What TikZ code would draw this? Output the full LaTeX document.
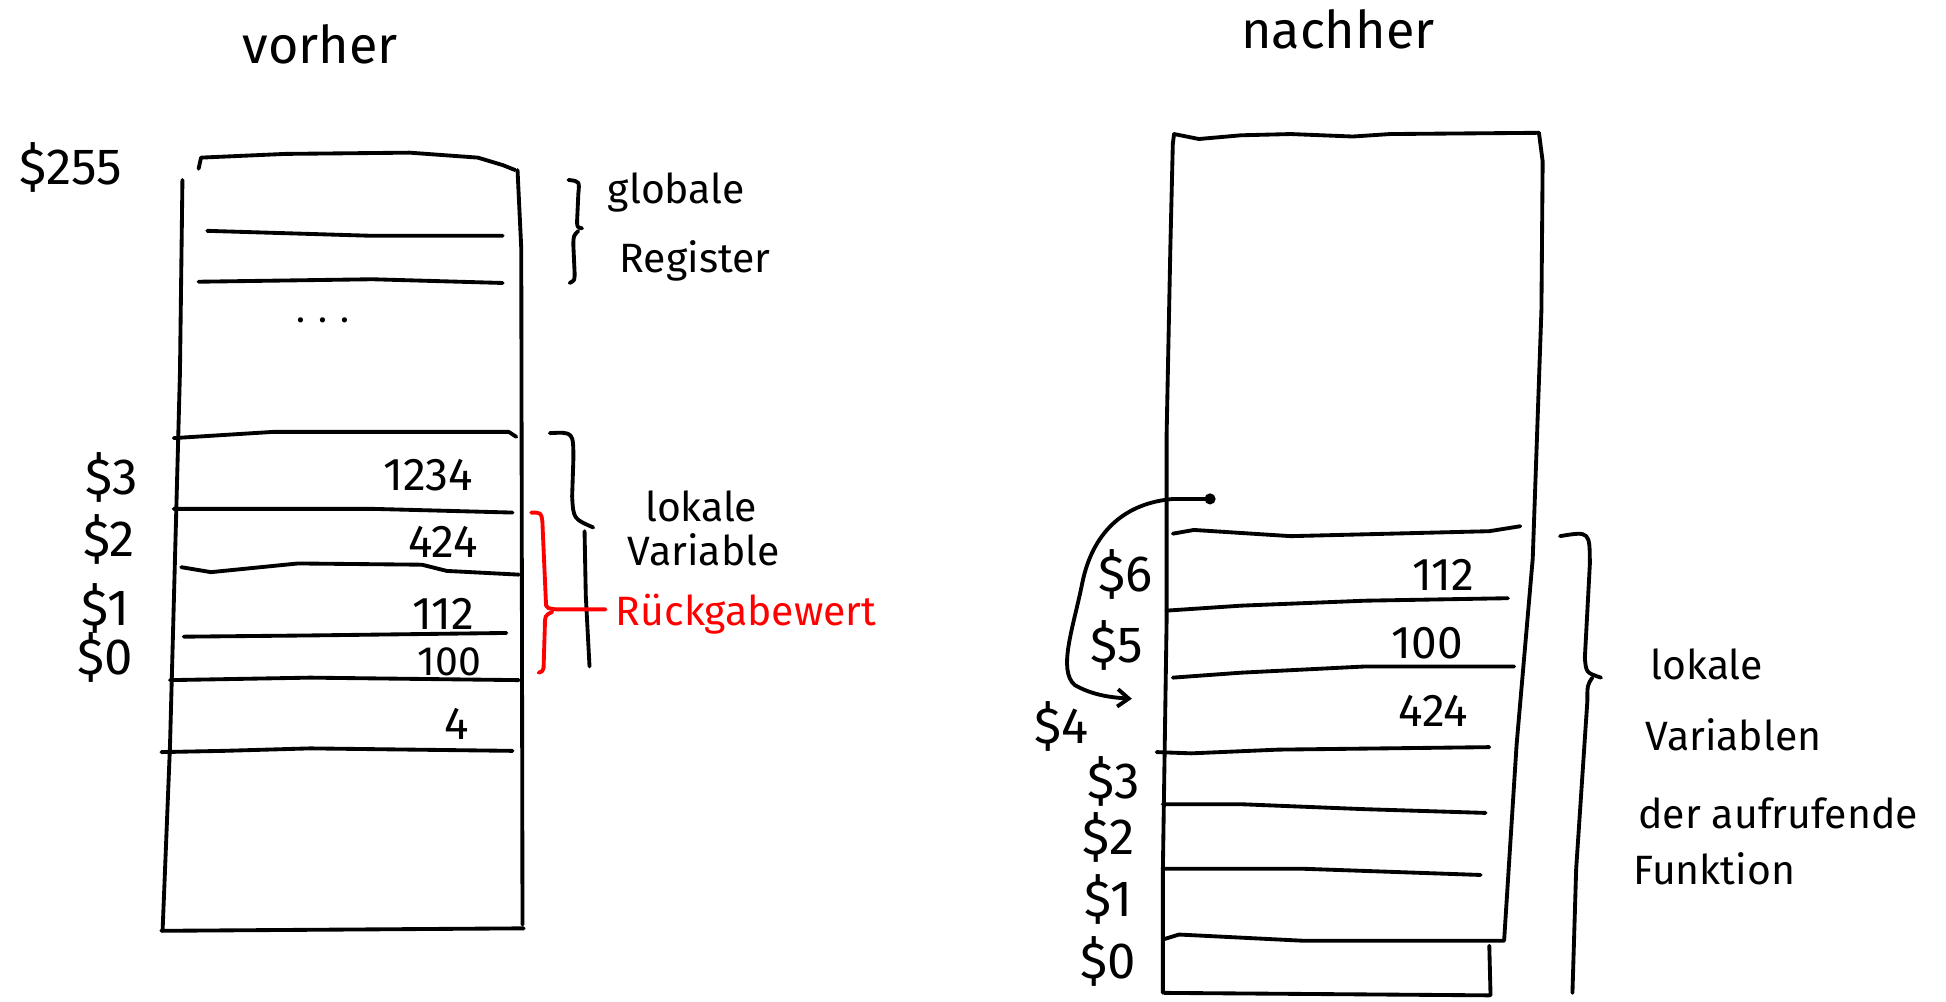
\documentclass[tikz,border=0pt]{standalone}
\usepackage{fontspec}
\setmainfont{Fira Sans}
\usetikzlibrary{arrows.meta}
\begin{document}
\begin{tikzpicture}[x=1pt,y=-1pt,
  pen/.style={line width=3.1pt, line cap=round, line join=round},
  redpen/.style={pen, draw=red},
  hand/.style={font=\fontsize{33}{35}\selectfont, inner sep=0pt},
  num/.style={font=\fontsize{37}{39}\selectfont, inner sep=0pt},
  reg/.style={font=\fontsize{41}{43}\selectfont, inner sep=0pt},
  big/.style={font=\fontsize{42}{44}\selectfont, inner sep=0pt},
  small/.style={font=\fontsize{30}{32}\selectfont, inner sep=0pt}]
\useasboundingbox (0,0) rectangle (1568,807);

% ---------- left stack: vorher ----------
\node[big] (tvor) at (258,36) {vorher};
\draw[pen] (160,136) -- (162,127) -- (230,124) -- (330,123) -- (385,127) -- (405,133) -- (415,137);
\draw[pen] (147,145) -- (145,300) -- (137,600) -- (131,750);
\draw[pen] (417,137) -- (420,200) -- (421,745);
\draw[pen] (130,750) -- (422,748);
% cells
\draw[pen] (167,186) -- (300,190) -- (405,190);
\draw[pen] (160,227) -- (300,225) -- (405,228);
\draw[pen] (140,353) -- (220,348) -- (410,348) -- (416,352);
\draw[pen] (140,410) -- (300,410) -- (413,413);
\draw[pen] (146,457) -- (170,461) -- (240,454) -- (340,455) -- (360,460) -- (418,463);
\draw[pen] (148,513) -- (250,512) -- (408,510);
\draw[pen] (137,548) -- (250,546) -- (418,548);
\draw[pen] (130,606) -- (180,605) -- (250,603) -- (413,605);
\node[small] (dots) at (260,258) {. . .};
% values
\node[num] (v1234) at (345,383) {1234};
\node[num] (v424) at (357,437) {424};
\node[num] (v112) at (357,495) {112};
\node[hand] (v100) at (362,533) {100};
\node[num] (v4) at (368,583) {4};
% register names
\node[reg] (r255) at (57,135) {\$255};
\node[reg] (r3) at (90,385) {\$3};
\node[reg] (r2) at (88,435) {\$2};
\node[reg] (r1) at (85,490) {\$1};
\node[reg] (r0) at (85,530) {\$0};
% braces and notes
\draw[pen] (458,145) .. controls (467,146) .. (466,156) -- (465,178) .. controls (465,183) .. (469,184);
\draw[pen] (466,186) .. controls (462,190) .. (462,198) -- (463,220) .. controls (463,226) .. (459,228);
\node[hand] (tglob) at (545,155) {globale};
\node[hand] (treg) at (560,210) {Register};
\draw[pen] (443,349) .. controls (462,348) .. (462,370) -- (461,400) .. controls (462,418) .. (478,425);
\draw[pen] (471,428) -- (472,480) -- (475,537);
\node[hand] (tlok) at (565,408) {lokale};
\node[hand] (tvar) at (567,443) {Variable};
\draw[redpen] (428,413) .. controls (436,413) .. (437,420) -- (440,488);
\draw[redpen] (440,488) .. controls (441,490) .. (448,491) -- (488,491);
\draw[redpen] (445,493) .. controls (439,496) .. (439,505) -- (438,538) .. controls (437,541) .. (434,542);
\node[hand, text=red, anchor=west] (tret) at (496,495) {Rückgabewert};

% ---------- right stack: nachher ----------
\node[big] (tnach) at (1078,24) {nachher};
\draw[pen] (945,116) -- (946,108) -- (966,112) -- (1000,109) -- (1040,108) -- (1090,110) -- (1120,108) -- (1240,107);
\draw[pen] (945,116) -- (943,200) -- (940,350) -- (940,500) -- (937,700) -- (937,800);
\draw[pen] (1240,107) -- (1243,130) -- (1242,250) -- (1235,450) -- (1222,600) -- (1212,757);
% cells
\draw[pen] (945,430) -- (962,427) -- (1040,432) -- (1200,428) -- (1225,424);
\draw[pen] (940,492) -- (1000,488) -- (1100,484) -- (1215,482);
\draw[pen] (945,546) -- (1000,542) -- (1100,537) -- (1220,537);
\draw[pen] (932,606) -- (960,607) -- (1030,604) -- (1200,602);
\draw[pen] (937,648) -- (1000,648) -- (1100,652) -- (1197,655);
\draw[pen] (937,700) -- (1050,700) -- (1193,705);
\draw[pen] (937,757) -- (950,753) -- (1050,758) -- (1212,758);
\draw[pen] (1200,762) -- (1201,802);
\draw[pen] (938,800) -- (1200,802);
% values
\node[num] (w112) at (1163,463) {112};
\node[num] (w100) at (1150,518) {100};
\node[num] (w424) at (1155,573) {424};
% register names
\node[reg] (s6) at (907,463) {\$6};
\node[reg] (s5) at (900,520) {\$5};
\node[reg] (s4) at (855,585) {\$4};
\node[reg] (s3) at (897,630) {\$3};
\node[reg] (s2) at (893,675) {\$2};
\node[reg] (s1) at (893,725) {\$1};
\node[reg] (s0) at (893,775) {\$0};
% pointer from the old frame down to $4
\coordinate (pstart) at (975,402);
\coordinate (pend) at (912,563);
\fill (pstart) circle (4.5pt);
\draw[pen, -{Straight Barb[length=9pt, width=14pt, line width=3.1pt]}] (pstart) -- (946,402)
  .. controls (905,405) and (880,430) .. (872,470)
  .. controls (865,505) and (852,540) .. (866,552)
  .. controls (880,560) and (895,562) .. (pend);
% brace and note
\draw[pen] (1257,432) .. controls (1281,428) .. (1281,455) -- (1277,530) .. controls (1278,542) .. (1290,546);
\draw[pen] (1283,546) .. controls (1279,552) .. (1279,565) -- (1270,700) -- (1267,800);
\node[hand, anchor=west] (ulok) at (1330,535) {lokale};
\node[hand, anchor=west] (uvar) at (1326,592) {Variablen};
\node[hand, anchor=west] (uder) at (1320,655) {der aufrufende};
\node[hand, anchor=west] (ufun) at (1316,700) {Funktion};
\end{tikzpicture}
\end{document}
